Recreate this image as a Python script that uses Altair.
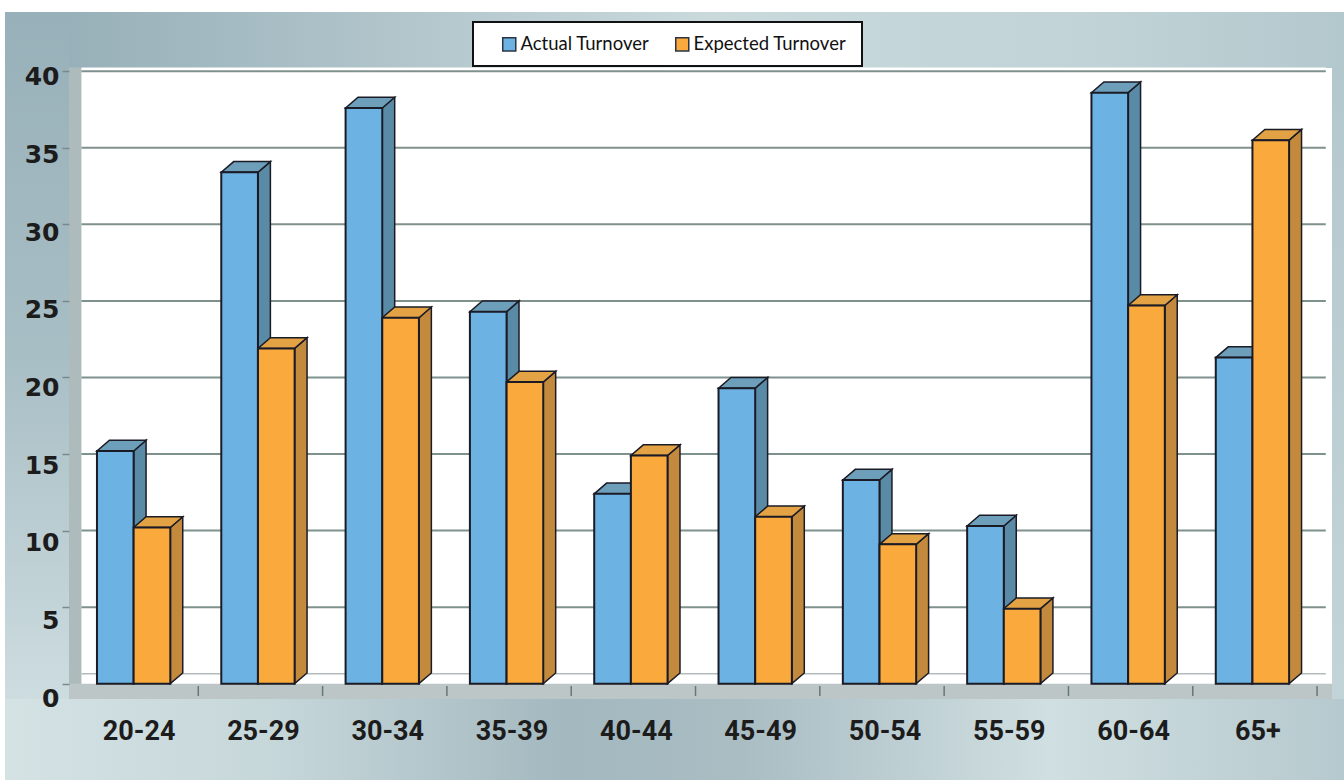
import json

import altair as alt
import pandas as pd

# ---- data -------------------------------------------------------------
ages = ["20-24", "25-29", "30-34", "35-39", "40-44",
        "45-49", "50-54", "55-59", "60-64", "65+"]
actual = [15.2, 33.4, 37.6, 24.3, 12.4, 19.3, 13.3, 10.3, 38.6, 21.3]
expected = [10.2, 21.9, 23.9, 19.7, 14.9, 10.9, 9.1, 4.9, 24.7, 35.5]
series_names = ["Actual Turnover", "Expected Turnover"]
y_ticks = [0, 5, 10, 15, 20, 25, 30, 35, 40]

# ---- layout -----------------------------------------------------------
W, H = 1263, 640
PAD = {"left": 69, "top": 59, "right": 12, "bottom": 81}
X_DOM = [-0.56, 9.6]
Y_DOM = [-1.0, 40.8]
WALL_LEFT, WALL_RIGHT, WALL_TOP = -0.46, 9.55, 40.25

BAR_W = 0.295
BAR_START = [-0.335, -0.04]     # left edge of each series' bar within a group
DX, DY = 0.1, 0.7                # 3-D depth of the bars (x units, y units)

FRONT = ["#6cb2e2", "#faaa3c"]
SIDE = ["#5a8ba6", "#c38a3d"]
TOP = ["#6d9fba", "#e3a244"]
EDGE = "#1b1b26"

xs = alt.Scale(domain=X_DOM, nice=False, zero=False)
ys = alt.Scale(domain=Y_DOM, nice=False, zero=False)

# one shared axis definition per channel, used by every layer
XAX = alt.Axis(values=list(range(len(ages))), title=None,
               labelExpr=f"{json.dumps(ages)}[datum.value]",
               domain=False, ticks=False, grid=False,
               labelFont="Roboto", labelFontWeight="bold",
               labelFontSize=27, labelColor="#1c1c1c",
               labelPadding=19, zindex=1)
# the value labels sit on the front edge of the floor, slightly below
# the back-wall gridlines, and the gap grows towards the bottom
YAX = alt.Axis(values=y_ticks, title=None, domain=False, grid=False,
               tickSize=7, tickColor="#7a8a8a", tickWidth=1.5,
               labelFont="DejaVu Sans", labelFontWeight="bold",
               labelFontSize=25, labelColor="#1c1c1c",
               labelPadding=3,
               labelOffset=alt.ExprRef(expr="14.5 - 0.225 * datum.value"),
               zindex=1)


def X(field):
    return alt.X(field, scale=xs, axis=XAX)


def Y(field):
    return alt.Y(field, scale=ys, axis=YAX)


# ---- bar geometry (front, right side and top faces) --------------------
front_rows, side_rows, top_rows = [], [], []
for i, age in enumerate(ages):
    for s, vals in enumerate([actual, expected]):
        v = vals[i]
        x0 = i + BAR_START[s]
        x1 = x0 + BAR_W
        key = f"{age}|{s}"
        front_rows.append(dict(age=age, series=series_names[s], s=s, x0=x0, x1=x1, v=v))
        side_rows += [dict(key=key, s=s, x=x1, lo=0.0, hi=v),
                      dict(key=key, s=s, x=x1 + DX, lo=DY, hi=v + DY)]
        top_rows += [dict(key=key, s=s, y=v, lo=x0, hi=x1),
                     dict(key=key, s=s, y=v + DY, lo=x0 + DX, hi=x1 + DX)]

front_df = pd.DataFrame(front_rows)
side_df = pd.DataFrame(side_rows)
top_df = pd.DataFrame(top_rows)
one = alt.Data(values=[{"k": 0}])


def grad(stops, x2=1, y2=0):
    return alt.LinearGradient(
        gradient="linear", x1=0, y1=0, x2=x2, y2=y2,
        stops=[alt.GradientStop(offset=o, color=c) for o, c in stops])


def pixel_rect(x, x2, y, y2, **mark):
    return alt.Chart(one).mark_rect(**mark).encode(
        x=alt.value(x), x2=alt.value(x2), y=alt.value(y), y2=alt.value(y2))


# ---- frame background -------------------------------------------------
L, R = -64, 1275
bg_left = pixel_rect(L, 0, -47, 640, color=grad(
    [(0, "#98b0b9"), (0.5, "#a8bec5"), (1, "#cddcdf")], x2=0, y2=1))
bg_top = pixel_rect(0, R, -47, 9, color=grad(
    [(0, "#98b0b9"), (0.5, "#c9d9dc"), (0.8, "#c1d3d7"), (1, "#b3c8cd")]))
bg_right = pixel_rect(W, R, 9, 640, color=grad(
    [(0, "#b3c8cd"), (1, "#c3d4d8")], x2=0, y2=1))
bg_bottom = pixel_rect(L, R, 640, 721, color=grad(
    [(0, "#d4e2e4"), (0.2, "#c6d7da"), (0.42, "#a3b8bf"), (0.55, "#a9bdc3"),
     (0.78, "#d0dfe1"), (1, "#b6c9ce")]))

# ---- walls, floor and gridlines ----------------------------------------
walls = pd.DataFrame([
    dict(a=WALL_LEFT, b=WALL_RIGHT, lo=0.0, hi=WALL_TOP, c="#ffffff"),
    dict(a=X_DOM[0], b=WALL_LEFT, lo=Y_DOM[0], hi=WALL_TOP, c="#aebbbc"),
    dict(a=X_DOM[0], b=X_DOM[1], lo=Y_DOM[0], hi=0.0, c="#bcc6c7"),
])
wall_layer = alt.Chart(walls).mark_rect().encode(
    x=X("a:Q"), x2="b:Q", y=Y("lo:Q"), y2="hi:Q",
    color=alt.Color("c:N", scale=None))

grid_df = pd.DataFrame({"v": y_ticks[1:], "a": WALL_LEFT, "b": WALL_RIGHT})
grid_layer = alt.Chart(grid_df).mark_rule(color="#7f918d", strokeWidth=2).encode(
    x=X("a:Q"), x2="b:Q", y=Y("v:Q"))

floor_edge = alt.Chart(pd.DataFrame({"v": [0.65], "a": [WALL_LEFT], "b": [WALL_RIGHT]})
                       ).mark_rule(color="#b3bcbc", strokeWidth=1.5).encode(
    x=X("a:Q"), x2="b:Q", y=Y("v:Q"))

floor_ticks = alt.Chart(pd.DataFrame({"t": [i + 0.48 for i in range(len(ages))]})
                        ).mark_rule(color="#66777a", strokeWidth=1.5).encode(
    x=X("t:Q"), y=alt.value(H - 13), y2=alt.value(H - 3))


# ---- 3-D bars ----------------------------------------------------------
def side_layer(s):
    return alt.Chart(side_df).transform_filter(f"datum.s == {s}").mark_area(
        orient="vertical", color=SIDE[s], stroke=EDGE, strokeWidth=1.5,
        strokeJoin="miter").encode(
        x=X("x:Q"), y=Y("hi:Q"), y2="lo:Q", detail="key:N")


def top_layer(s):
    return alt.Chart(top_df).transform_filter(f"datum.s == {s}").mark_area(
        orient="horizontal", color=TOP[s], stroke=EDGE, strokeWidth=1.5,
        strokeJoin="miter").encode(
        y=Y("y:Q"), x=X("hi:Q"), x2="lo:Q", detail="key:N")


front_layer = alt.Chart(front_df).mark_rect(stroke=EDGE, strokeWidth=2).encode(
    x=X("x0:Q"), x2="x1:Q", y=Y("v:Q"), y2=alt.datum(0),
    color=alt.Color("series:N",
                    scale=alt.Scale(domain=series_names, range=FRONT),
                    legend=alt.Legend(title=None, orient="none",
                                      legendX=431, legendY=-24,
                                      direction="horizontal",
                                      symbolType="square", symbolSize=170,
                                      symbolStrokeColor="#2b3340",
                                      symbolStrokeWidth=1.5,
                                      labelFont="Lato", labelFontSize=18.5,
                                      labelColor="#111111", labelOffset=2,
                                      columnPadding=22, padding=0, zindex=1)))

legend_box = pixel_rect(404, 793, -37, 7, fill="white", stroke="#111111",
                        strokeWidth=2)

chart = alt.layer(
    bg_left, bg_top, bg_right, bg_bottom,
    wall_layer, grid_layer, floor_edge, floor_ticks,
    side_layer(0), top_layer(0), side_layer(1), top_layer(1),
    front_layer, legend_box,
).properties(
    width=W, height=H,
    autosize=alt.AutoSizeParams(type="none"),
    padding=PAD,
    background="white",
).configure_view(stroke=None)

chart.save("out.html", embed_options={"renderer": "svg", "actions": False})
